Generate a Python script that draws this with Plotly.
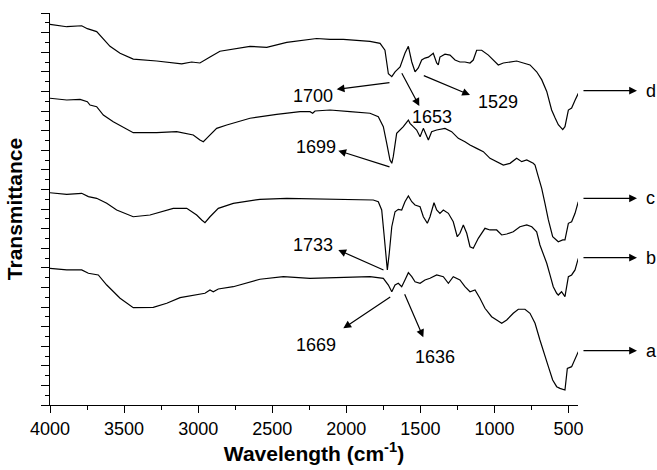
import plotly.graph_objects as go

# Wavenumber (cm-1) and transmittance (arbitrary, offset)
wn_a = [4000, 3887, 3786, 3741, 3674, 3617, 3527, 3438, 3303, 3212, 3122, 3010, 2954, 2920, 2898, 2864, 2763, 2583, 2425, 2245, 2110,
        1840, 1750, 1716, 1693, 1671, 1649, 1626, 1604, 1581, 1558, 1536, 1502, 1469, 1435, 1390, 1345, 1311, 1278, 1233, 1199, 1165,
        1131, 1098, 1064, 1019, 985, 951, 917, 873, 839, 794, 760, 726, 693, 670, 636, 607, 580, 558, 524, 508, 479, 434]
tr_a = [13.95, 13.78, 13.78, 13.44, 13.27, 12.24, 10.89, 9.93, 9.97, 10.38, 10.95, 11.22, 11.40, 11.73, 11.56, 11.84, 12.07, 12.83, 13.09, 12.93, 12.99,
        13.09, 12.93, 12.24, 11.56, 12.24, 12.42, 12.07, 12.76, 13.50, 13.09, 12.58, 12.42, 12.76, 12.93, 13.27, 13.09, 12.42, 13.09, 12.76, 12.07, 11.56,
        11.73, 10.89, 9.87, 9.01, 8.67, 8.34, 8.67, 9.36, 9.77, 9.77, 9.36, 8.34, 6.63, 5.61, 3.91, 2.55, 1.87, 1.70, 1.53, 3.74, 3.91, 5.44]

wn_b = [4000, 3887, 3786, 3741, 3685, 3617, 3550, 3438, 3325, 3168, 3077, 3010, 2976, 2954, 2920, 2864, 2763, 2583, 2402, 2110,
        1818, 1784, 1761, 1746, 1732, 1723, 1710, 1693, 1671, 1649, 1626, 1604, 1581, 1558, 1536, 1502, 1480, 1453, 1435, 1408,
        1390, 1368, 1345, 1311, 1278, 1251, 1233, 1210, 1187, 1165, 1143, 1109, 1064, 1030, 985, 951, 917, 873, 828, 782, 748,
        715, 693, 670, 647, 625, 603, 580, 569, 547, 524, 501, 479, 456, 434]
tr_b = [21.66, 21.50, 21.60, 21.26, 21.09, 20.58, 19.90, 19.21, 19.39, 20.07, 20.07, 19.39, 18.88, 18.60, 19.21, 20.07, 20.58, 20.99, 21.09, 20.99,
        20.92, 20.74, 19.90, 17.52, 14.80, 13.78, 15.48, 18.19, 19.72, 19.97, 19.90, 20.74, 21.33, 20.74, 20.41, 20.23, 19.21, 18.54, 19.21, 20.64,
        19.90, 19.56, 19.90, 19.56, 18.70, 17.17, 17.52, 18.37, 17.52, 16.15, 15.99, 17.01, 18.03, 17.86, 17.86, 17.35, 17.45, 17.68, 18.19, 18.37, 18.19,
        17.68, 16.33, 15.48, 14.46, 13.27, 12.07, 11.40, 11.22, 11.56, 11.05, 13.09, 13.27, 13.78, 14.97]

wn_c = [4000, 3887, 3797, 3748, 3730, 3685, 3640, 3573, 3438, 3280, 3145, 3033, 2988, 2965, 2931, 2875, 2807, 2650, 2470, 2312, 2245, 2227, 2211, 2110,
        1975, 1840, 1784, 1750, 1727, 1705, 1693, 1683, 1660, 1637, 1615, 1581, 1570, 1548, 1525, 1502, 1480, 1446, 1424, 1390, 1334, 1289,
        1244, 1199, 1165, 1120, 1075, 1030, 985, 940, 895, 850, 816, 782, 738, 726, 704, 681, 659, 636, 607, 569, 539, 524, 501, 479, 456, 434]
tr_c = [31.30, 31.12, 31.19, 30.95, 30.61, 30.44, 29.59, 28.91, 27.79, 27.79, 27.89, 27.55, 27.04, 26.87, 27.38, 28.23, 28.57, 29.26, 29.66, 29.93, 29.93, 29.77, 30.00, 30.10,
        29.93, 29.77, 29.42, 28.40, 26.70, 25.00, 24.66, 25.34, 27.72, 28.06, 28.40, 29.08, 28.74, 28.40, 28.06, 27.38, 28.23, 27.04, 27.89, 28.06, 28.23, 27.89,
        27.21, 26.87, 26.53, 26.19, 25.85, 25.17, 24.83, 24.49, 24.66, 25.17, 24.83, 25.00, 24.66, 24.49, 23.30, 22.11, 20.58, 18.88, 17.17, 16.66, 16.84, 16.84, 18.54, 18.70, 19.56, 20.74]

wn_d = [4000, 3887, 3786, 3748, 3685, 3595, 3527, 3438, 3280, 3111, 3044, 2988, 2920, 2853, 2650, 2537, 2402, 2200, 2110, 2020,
        1840, 1772, 1739, 1716, 1693, 1671, 1637, 1604, 1581, 1558, 1536, 1514, 1491, 1469, 1446, 1413, 1390, 1379, 1368, 1334,
        1300, 1266, 1233, 1199, 1165, 1143, 1120, 1086, 1041, 1008, 974, 940, 895, 850, 805, 760, 715, 681, 647, 614, 591, 569,
        539, 524, 501, 479, 456, 434]
tr_d = [38.85, 38.60, 38.70, 38.40, 38.10, 36.60, 35.90, 35.30, 35.10, 34.80, 35.00, 34.90, 35.50, 36.10, 36.60, 36.50, 37.00, 37.40, 37.30, 37.30,
        37.10, 36.90, 36.20, 33.80, 33.50, 34.00, 34.50, 35.90, 36.60, 35.00, 34.00, 34.40, 35.20, 35.40, 35.50, 35.90, 34.90, 34.70, 35.50, 35.80,
        35.70, 35.20, 35.00, 35.00, 34.90, 35.20, 36.20, 36.20, 35.70, 35.20, 34.70, 34.90, 35.00, 35.10, 34.90, 34.70, 34.00, 33.20, 32.00, 30.10, 29.30, 28.60,
        28.10, 28.40, 30.10, 30.30, 31.10, 31.80]

# Peak labels: text, arrow head (wn, tr), tail offset (px), text position (wn, tr)
peak_text = ["1700", "1653", "1529", "1699", "1733", "1669", "1636"]
peak_head_wn = [2065, 1507, 1165, 2054, 2054, 2020, 1480]
peak_head_tr = [32.21, 30.51, 31.63, 25.95, 15.82, 7.83, 6.91]
peak_tail_dx = [54.3, -18.3, -47.7, 52.7, 46.7, 48.4, -19.3]
peak_tail_dy = [-7.0, -34.3, -20.0, 16.6, 20.7, -32.3, -44.6]
peak_text_wn = [2225, 1424, 976, 2205, 2225, 2205, 1401]
peak_text_tr = [31.56, 29.42, 30.89, 26.33, 16.33, 6.12, 4.93]

# Curve letters at right
curve_names = ["d", "c", "b", "a"]
curve_label_tr = [32.07, 21.09, 15.03, 5.54]

FONT = "Arial, Liberation Sans, sans-serif"

fig = go.Figure()
for wn, tr in [(wn_a, tr_a), (wn_b, tr_b), (wn_c, tr_c), (wn_d, tr_d)]:
    fig.add_trace(go.Scatter(x=wn, y=tr, mode="lines", line=dict(color="black", width=1.2),
                             showlegend=False, hoverinfo="skip"))

ann = []
for t, hx, hy, dx, dy, tx, ty in zip(peak_text, peak_head_wn, peak_head_tr, peak_tail_dx,
                                      peak_tail_dy, peak_text_wn, peak_text_tr):
    ann.append(dict(x=hx, y=hy, xref="x", yref="y", ax=dx, ay=dy, text="", showarrow=True,
                    arrowhead=2, arrowsize=1.3, arrowwidth=1.2, arrowcolor="black"))
    ann.append(dict(x=tx, y=ty, xref="x", yref="y", text=t, showarrow=False,
                    font=dict(size=18, color="black", family=FONT)))

# arrows to the right of the plot area (in paper units)
for n, y in zip(curve_names, curve_label_tr):
    ann.append(dict(x=1.1117, y=y, xref="paper", yref="y", ax=-55, ay=0, text="", showarrow=True,
                    arrowhead=2, arrowsize=1.3, arrowwidth=1.2, arrowcolor="black"))
    ann.append(dict(x=1.125, y=y, xref="paper", yref="y", text=n, showarrow=False, xanchor="left",
                    font=dict(size=18, color="black", family=FONT)))

fig.update_layout(
    width=657, height=470,
    margin=dict(l=50, r=79, t=13, b=65),
    plot_bgcolor="white", paper_bgcolor="white",
    font=dict(family=FONT, color="black", size=18),
    annotations=ann,
    xaxis=dict(range=[4000, 436], showgrid=False, zeroline=False, showline=True, automargin=False,
               linecolor="black", linewidth=1.3, ticks="outside", ticklen=7, tickwidth=1.3,
               tickcolor="black", tick0=0, dtick=500,
               minor=dict(ticks="outside", ticklen=4, tickwidth=1.3, tickcolor="black", dtick=250),
               tickfont=dict(size=18, family=FONT),
               title=dict(text="<b>Wavelength (cm<sup>-1</sup>)</b>", font=dict(size=21, family=FONT), standoff=6)),
    yaxis=dict(range=[0, 40], showgrid=False, zeroline=False, showline=True, automargin=False,
               linecolor="black", linewidth=1.3, ticks="outside", ticklen=8, tickwidth=1.3,
               tickcolor="black", tick0=0, dtick=2, showticklabels=False,
               minor=dict(ticks="outside", ticklen=4, tickwidth=1.3, tickcolor="black", dtick=1),
               title=dict(text="<b>Transmittance</b>", font=dict(size=21, family=FONT), standoff=12)),
)

fig.write_html("out.html", config={"displayModeBar": False},
               post_script="document.body.style.margin='0';document.body.style.overflow='hidden';")
